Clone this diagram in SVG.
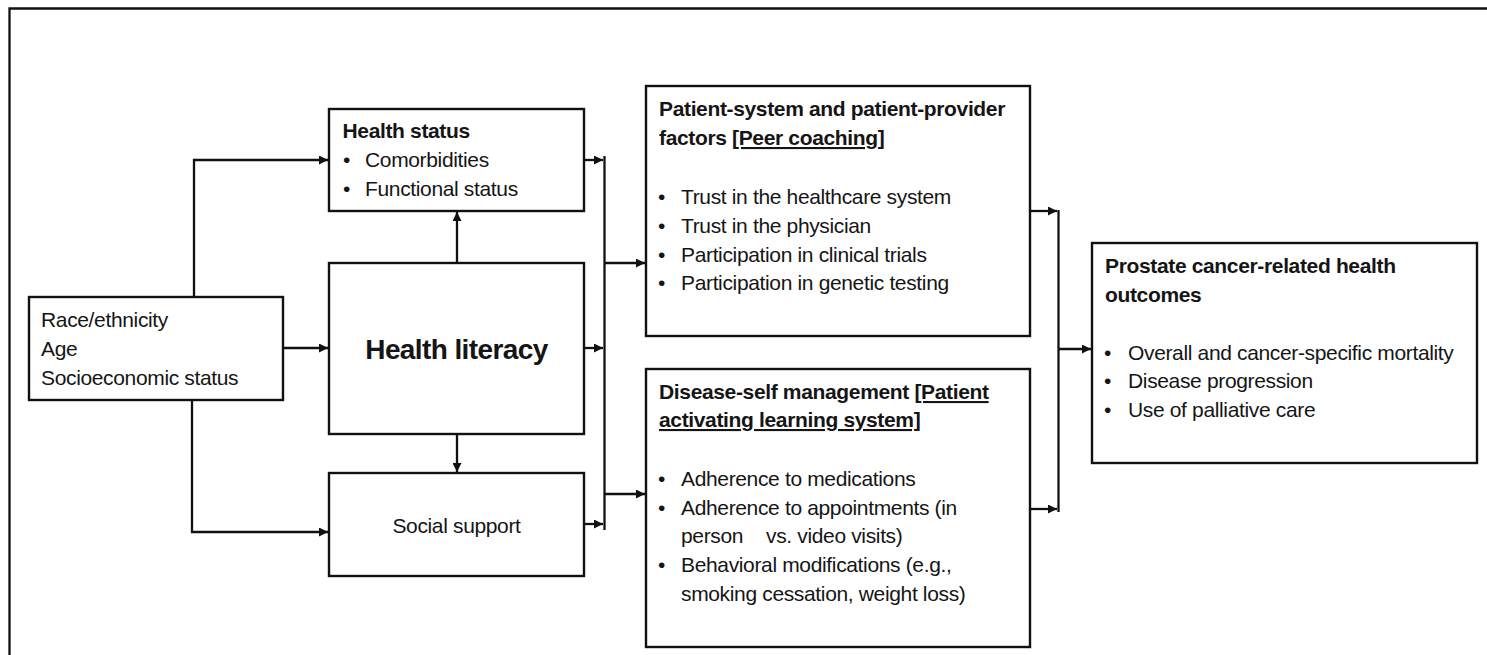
<svg xmlns="http://www.w3.org/2000/svg" width="1487" height="655" viewBox="0 0 1487 655">
<defs>
<marker id="ah" markerUnits="userSpaceOnUse" markerWidth="10" markerHeight="9" refX="9" refY="4.5" orient="auto">
<path d="M0,0 L9,4.5 L0,9 z" fill="#111"/>
</marker>
<style>
.box{fill:#fff;stroke:#111;stroke-width:2.4}
.ln{fill:none;stroke:#111;stroke-width:2.3}
.ar{fill:none;stroke:#111;stroke-width:2.3;marker-end:url(#ah)}
text{font-family:"Liberation Sans",Arial,sans-serif;font-size:21px;letter-spacing:-0.35px;fill:#151515}
.b{font-weight:bold}
.u{text-decoration:underline}
</style>
</defs>
<rect width="1487" height="655" fill="#fff"/>
<path class="ln" d="M9.5,655 V8.5 H1487"/>

<g id="connectors">
<path class="ar" d="M194,297 V160 H328"/>
<path class="ar" d="M283,348 H328"/>
<path class="ar" d="M192,400 V532 H328"/>
<path class="ar" d="M457,263 V212"/>
<path class="ar" d="M457,434 V472"/>
<path class="ar" d="M584,160 H603"/>
<path class="ar" d="M584,348 H603"/>
<path class="ar" d="M584,524 H603"/>
<path class="ln" d="M604.5,156 V530"/>
<path class="ar" d="M604,263 H645"/>
<path class="ar" d="M604,494 H645"/>
<path class="ar" d="M1030,211 H1057"/>
<path class="ar" d="M1030,509 H1057"/>
<path class="ln" d="M1058.5,210 V512"/>
<path class="ar" d="M1058,349 H1091"/>
</g>

<g id="demographics">
<rect class="box" x="29" y="297" width="254" height="103"/>
<text x="41" y="327">Race/ethnicity</text>
<text x="41" y="356">Age</text>
<text x="41" y="385">Socioeconomic status</text>
</g>

<g id="health-status">
<rect class="box" x="329" y="109" width="255" height="102"/>
<text class="b" x="342.5" y="138">Health status</text>
<text x="343" y="167">•</text><text x="365" y="167">Comorbidities</text>
<text x="343" y="196">•</text><text x="365" y="196">Functional status</text>
</g>

<g id="health-literacy">
<rect class="box" x="329" y="263" width="255" height="171"/>
<text class="b" x="456.5" y="359" text-anchor="middle" style="font-size:28px;letter-spacing:-0.6px">Health literacy</text>
</g>

<g id="social-support">
<rect class="box" x="329" y="473" width="255" height="103"/>
<text x="456.5" y="533" text-anchor="middle">Social support</text>
</g>

<g id="patient-system">
<rect class="box" x="646" y="86" width="384" height="250"/>
<text class="b" x="659" y="116">Patient-system and patient-provider</text>
<text class="b" x="659" y="145">factors <tspan class="u">[Peer coaching]</tspan></text>
<text x="658" y="204">•</text><text x="681" y="204">Trust in the healthcare system</text>
<text x="658" y="233">•</text><text x="681" y="233">Trust in the physician</text>
<text x="658" y="262">•</text><text x="681" y="262">Participation in clinical trials</text>
<text x="658" y="290">•</text><text x="681" y="290">Participation in genetic testing</text>
</g>

<g id="disease-self-management">
<rect class="box" x="646" y="369" width="384" height="278"/>
<text class="b" x="659" y="399">Disease-self management <tspan class="u">[Patient</tspan></text>
<text class="b u" x="659" y="427">activating learning system]</text>
<text x="658" y="486">•</text><text x="681" y="486">Adherence to medications</text>
<text x="658" y="515">•</text><text x="681" y="515">Adherence to appointments (in</text>
<text x="681" y="543">person<tspan x="766">vs. video visits)</tspan></text>
<text x="658" y="572">•</text><text x="681" y="572">Behavioral modifications (e.g.,</text>
<text x="681" y="601">smoking cessation, weight loss)</text>
</g>

<g id="outcomes">
<rect class="box" x="1092" y="243" width="385" height="220"/>
<text class="b" x="1105" y="273">Prostate cancer-related health</text>
<text class="b" x="1105" y="302">outcomes</text>
<text x="1104" y="360">•</text><text x="1128" y="360">Overall and cancer-specific mortality</text>
<text x="1104" y="388">•</text><text x="1128" y="388">Disease progression</text>
<text x="1104" y="417">•</text><text x="1128" y="417">Use of palliative care</text>
</g>
</svg>
